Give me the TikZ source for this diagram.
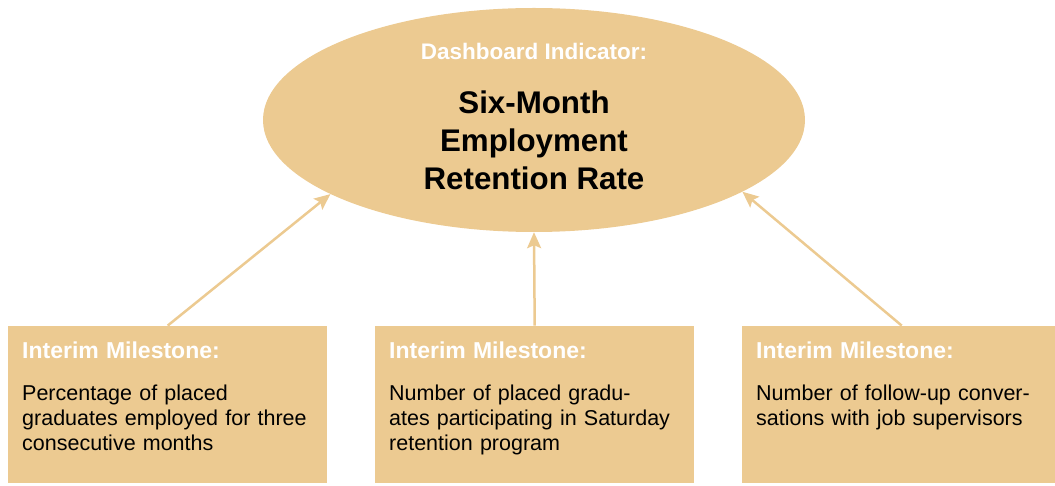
\documentclass[tikz,border=0pt]{standalone}
\usepackage{fontspec}
\setmainfont{Liberation Sans}
\usetikzlibrary{shapes.geometric,arrows.meta,positioning}
\definecolor{sand}{RGB}{236,202,145}

\begin{document}
\begin{tikzpicture}[x=1pt,y=1pt,
    milebox/.style={fill=sand,draw=none,anchor=south west,minimum width=319pt,minimum height=157pt,inner sep=0pt},
    miletext/.style={anchor=north west,inner sep=0pt,align=left,text width=300pt,font=\fontsize{21.5}{25}\selectfont},
    link/.style={draw=sand,line width=2.5pt,-{Stealth[length=16pt,width=14pt,inset=3pt]}}]
  \useasboundingbox (0,0) rectangle (1055,485);

  % dashboard indicator
  \node[ellipse,fill=sand,minimum width=542pt,minimum height=224pt,inner sep=0pt] (ind) at (534,365) {};
  \node[anchor=base,text=white,font=\fontsize{22.5}{25}\selectfont\bfseries] (indhead) at (534,425) {Dashboard Indicator:};
  \node[align=center,inner sep=0pt,font=\fontsize{31.3}{38}\selectfont\bfseries] (indtitle) at (534,345) {Six-Month\\Employment\\Retention Rate};

  % interim milestones
  \node[milebox] (m1) at (8,2) {};
  \node[milebox] (m2) at (375,2) {};
  \node[milebox] (m3) at (742,2) {};

  \node[miletext,below right=16pt and 14pt of m1.north west] (t1) {\textcolor{white}{\fontsize{23}{25}\selectfont\bfseries Interim Milestone:}\\[17pt]Percentage of placed\\graduates employed for three\\consecutive months};
  \node[miletext,below right=16pt and 14pt of m2.north west] (t2) {\textcolor{white}{\fontsize{23}{25}\selectfont\bfseries Interim Milestone:}\\[17pt]Number of placed gradu-\\ates participating in Saturday\\retention program};
  \node[miletext,below right=16pt and 14pt of m3.north west] (t3) {\textcolor{white}{\fontsize{23}{25}\selectfont\bfseries Interim Milestone:}\\[17pt]Number of follow-up conver-\\sations with job supervisors};

  % arrows up to the indicator
  \draw[link] (m1.north) -- (ind.200);
  \draw[link] (m2.north) -- (ind.south);
  \draw[link] (m3.north) -- (ind.341);
\end{tikzpicture}
\end{document}
